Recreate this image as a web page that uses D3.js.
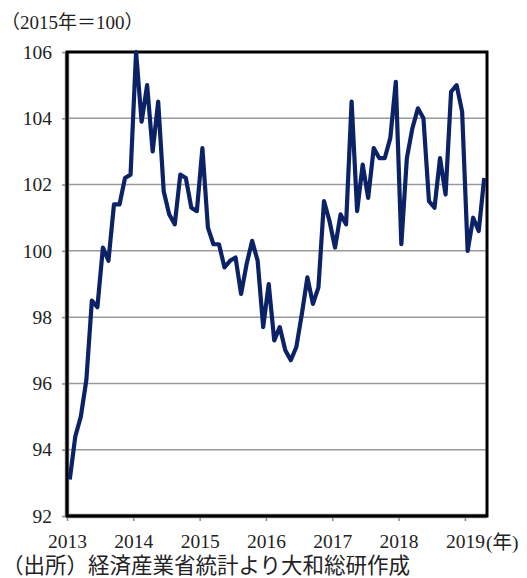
<!DOCTYPE html>
<html>
<head>
<meta charset="utf-8">
<script src="https://cdn.jsdelivr.net/npm/d3@7"></script>
<style>
  html, body { margin: 0; padding: 0; background: #fff; }
  svg { display: block; }
  text { font-family: "Liberation Serif", "Noto Sans CJK JP", serif; fill: #222; }
</style>
</head>
<body>
<script>
// Monthly index values, Jan 2013 – Apr 2019 (2015 = 100)
const startYear = 2013;
const values = [
  93.1, 94.4, 95.0, 96.1, 98.5, 98.3, 100.1, 99.7, 101.4, 101.4, 102.2, 102.3,   // 2013
  106.0, 103.9, 105.0, 103.0, 104.5, 101.8, 101.1, 100.8, 102.3, 102.2, 101.3, 101.2, // 2014
  103.1, 100.7, 100.2, 100.2, 99.5, 99.7, 99.8, 98.7, 99.6, 100.3, 99.7, 97.7,   // 2015
  99.0, 97.3, 97.7, 97.0, 96.7, 97.1, 98.1, 99.2, 98.4, 98.9, 101.5, 100.9,      // 2016
  100.1, 101.1, 100.8, 104.5, 101.2, 102.6, 101.6, 103.1, 102.8, 102.8, 103.4, 105.1, // 2017
  100.2, 102.8, 103.7, 104.3, 104.0, 101.5, 101.3, 102.8, 101.7, 104.8, 105.0, 104.2, // 2018
  100.0, 101.0, 100.6, 102.2                                                      // 2019
];
const yTicks = [92, 94, 96, 98, 100, 102, 104, 106];
const yearLabels = ["2013", "2014", "2015", "2016", "2017", "2018", "2019"];
const unitLabel = "（2015年＝100）";
const yearUnit = "(年)";
const sourceLabel = "（出所）経済産業省統計より大和総研作成";

const W = 527, H = 578;
const L = 67, R = 487, T = 52, B = 516;

const svg = d3.select("body").append("svg").attr("width", W).attr("height", H);

const nCat = 76;
const x = d3.scaleLinear().domain([0, nCat]).range([L, R]);
const y = d3.scaleLinear().domain([92, 106]).range([B, T]);

// gridlines
svg.append("g").selectAll("line").data(yTicks.slice(1, -1)).join("line")
  .attr("x1", L).attr("x2", R)
  .attr("y1", d => y(d)).attr("y2", d => y(d))
  .attr("stroke", "#9a9a9a").attr("stroke-width", 1.5);

// y axis
const yAxis = svg.append("g").attr("transform", `translate(${L},0)`)
  .call(d3.axisLeft(y).tickValues(yTicks).tickSize(5).tickPadding(10).tickFormat(d3.format("d")));
yAxis.select(".domain").remove();
yAxis.selectAll(".tick line").attr("stroke", "#888").attr("stroke-width", 1.5);
yAxis.selectAll(".tick text").attr("font-size", 19.5).attr("font-family", "Liberation Serif, serif").attr("fill", "#222");

// x axis
const xTickVals = yearLabels.map((d, i) => i * 12);
const xAxis = svg.append("g").attr("transform", `translate(0,${B})`)
  .call(d3.axisBottom(x).tickValues(xTickVals).tickSize(5).tickPadding(13)
    .tickFormat((d, i) => yearLabels[i]));
xAxis.select(".domain").remove();
xAxis.selectAll(".tick line").attr("stroke", "#888").attr("stroke-width", 1.5);
xAxis.selectAll(".tick text").attr("font-size", 19.5).attr("font-family", "Liberation Serif, serif").attr("fill", "#222");

// unit after last year
const lastX = x(xTickVals[xTickVals.length - 1]);
svg.append("text").attr("x", lastX + 21).attr("y", B + 33)
  .attr("font-size", 19.5).text(yearUnit);

// frame
svg.append("line").attr("x1", L).attr("x2", L).attr("y1", T).attr("y2", B + 1)
  .attr("stroke", "#8a8a8a").attr("stroke-width", 4.5);
svg.append("line").attr("x1", L - 1).attr("x2", R).attr("y1", B, ).attr("y2", B)
  .attr("stroke", "#8a8a8a").attr("stroke-width", 4.5);
svg.append("rect").attr("x", L).attr("y", T).attr("width", R - L).attr("height", B - T)
  .attr("fill", "none").attr("stroke", "#000").attr("stroke-width", 3);

// data line
const line = d3.line().x((d, i) => x(i + 0.5)).y(d => y(d));
svg.append("path").datum(values)
  .attr("d", line).attr("fill", "none")
  .attr("stroke", "#0b2366").attr("stroke-width", 4.2)
  .attr("stroke-linejoin", "round").attr("stroke-linecap", "butt");

// unit label
svg.append("text").attr("x", 1).attr("y", 29).attr("font-size", 19).text(unitLabel);

// source
svg.append("text").attr("x", 2).attr("y", 573).attr("font-size", 21.5).text(sourceLabel);
</script>
</body>
</html>
